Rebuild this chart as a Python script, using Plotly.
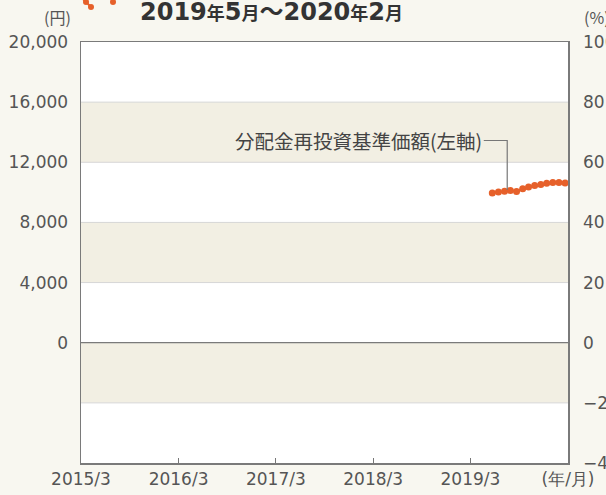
import plotly.graph_objects as go

# ---- data ----
dates = ["2019-05-22", "2019-06-14", "2019-07-07", "2019-07-29", "2019-08-21",
         "2019-09-13", "2019-10-05", "2019-10-28", "2019-11-20", "2019-12-12",
         "2020-01-04", "2020-01-27", "2020-02-19"]
nav = [9950, 10020, 10080, 10130, 10060, 10240, 10350, 10460, 10530, 10610,
       10660, 10650, 10620]

x_tickvals = ["2015-03-01", "2016-03-01", "2017-03-01", "2018-03-01",
              "2019-03-01", "2020-03-01"]
x_ticktext = ["2015/3", "2016/3", "2017/3", "2018/3", "2019/3", "(年/月)"]
y_tickvals = [0, 4000, 8000, 12000, 16000, 20000]
y2_tickvals = [-40, -20, 0, 20, 40, 60, 80, 100]
y2_ticktext = ["−40", "−20", "0", "20", "40", "60", "80", "100"]
band_ranges = [(12000, 16000), (4000, 8000), (-4000, 0)]
grid_vals = [16000, 12000, 8000, 4000, -4000]

ORANGE = "#e6602a"
TXT = "#555555"
CJK = "Noto Sans CJK JP"
NUM = "DejaVu Sans"
BG = "#f8f7f0"
BAND = "#f2efe3"

L, R, T, B = 81, 568, 42, 463
PW, PH = R - L, B - T


def px(xp):
    return (xp - L) / PW


def py(yp):
    return (B - yp) / PH


fig = go.Figure()
fig.add_trace(go.Scatter(
    x=dates, y=nav, mode="lines+markers",
    line=dict(color=ORANGE, width=2),
    marker=dict(color=ORANGE, size=7, symbol="circle"),
    showlegend=False, hoverinfo="skip"))
fig.add_trace(go.Scatter(x=[dates[0]], y=[0], yaxis="y2", mode="markers",
                         marker=dict(opacity=0), showlegend=False, hoverinfo="skip"))

shapes = []
for lo, hi in band_ranges:
    shapes.append(dict(type="rect", xref="paper", yref="y", x0=0, x1=1, y0=lo, y1=hi,
                       fillcolor=BAND, line=dict(width=0), layer="below"))
for g in grid_vals:
    shapes.append(dict(type="line", xref="paper", yref="y", x0=0, x1=1, y0=g, y1=g,
                       line=dict(color="#d6d6d6", width=1), layer="below"))
shapes.append(dict(type="line", xref="paper", yref="y", x0=0, x1=1, y0=0, y1=0,
                   line=dict(color="#7a7a7a", width=1.2), layer="below"))
# leader line
shapes.append(dict(type="path", xref="x", yref="y",
                   path="M 2019-04-20,13450 L 2019-07-17,13450 L 2019-07-17,10150",
                   line=dict(color="#777777", width=1.2)))
# legend fragment at top (cropped)
for cx, cy in [(86, 2), (91, 7), (113, 2)]:
    shapes.append(dict(type="circle", xref="paper", yref="paper",
                       x0=px(cx - 3), x1=px(cx + 3), y0=py(cy + 3), y1=py(cy - 3),
                       fillcolor=ORANGE, line=dict(width=0)))
shapes.append(dict(type="path", xref="paper", yref="paper",
                   path="M %f,%f L %f,%f" % (px(80), py(-4), px(91), py(7)),
                   line=dict(color=ORANGE, width=2)))


def cj(s, size):
    return "<span style='font-family:%s;font-size:%dpx'>%s</span>" % (CJK, size, s)


title = "2019" + cj("年", 18) + "5" + cj("月", 18) + cj("〜", 24) + "2020" + cj("年", 18) + "2" + cj("月", 18)

annotations = [
    dict(text=title, xref="paper", yref="paper", x=px(271), y=py(10),
         xanchor="center", yanchor="middle", showarrow=False,
         font=dict(family=NUM, size=24, color="#333333", weight="bold")),
    dict(text="(円)", xref="paper", yref="paper", x=px(73), y=py(17),
         xanchor="right", yanchor="middle", showarrow=False,
         font=dict(family=CJK, size=16, color=TXT)),
    dict(text="(%)", xref="paper", yref="paper", x=px(582), y=py(17),
         xanchor="left", yanchor="middle", showarrow=False,
         font=dict(family=CJK, size=16, color=TXT)),
    dict(text="分配金再投資基準価額(左軸)", xref="x", yref="y",
         x="2019-04-19", y=13450, xanchor="right", yanchor="middle", showarrow=False,
         font=dict(family=CJK, size=19.5, color="#444444")),
]

fig.update_layout(
    width=606, height=495,
    margin=dict(l=L, r=606 - R, t=T, b=495 - B),
    paper_bgcolor=BG, plot_bgcolor="#ffffff",
    font=dict(family=NUM, size=17, color=TXT),
    shapes=shapes, annotations=annotations,
    xaxis=dict(type="date", range=["2015-03-01", "2020-03-01"],
               tickvals=x_tickvals, ticktext=x_ticktext, automargin=False,
               ticks="inside", ticklen=5, tickcolor="#777777", tickwidth=1,
               showgrid=False, zeroline=False,
               showline=True, linecolor="#7a7a7a", linewidth=1.5, mirror=True,
               tickfont=dict(family=NUM, size=17, color=TXT)),
    yaxis=dict(range=[-8000, 20000], tickvals=y_tickvals, tickformat=",",
               showgrid=False, zeroline=False, ticks="", automargin=False,
               showline=True, linecolor="#7a7a7a", linewidth=1.5, mirror=True,
               ticklabelstandoff=8,
               tickfont=dict(family=NUM, size=17, color=TXT)),
    yaxis2=dict(range=[-40, 100], tickvals=y2_tickvals, ticktext=y2_ticktext,
                overlaying="y", side="right", showgrid=False, zeroline=False,
                showline=False, ticks="", ticklabelstandoff=14, automargin=False,
                tickfont=dict(family=NUM, size=17, color=TXT)),
)

fig.write_html("out.html",
               config={"displayModeBar": False, "staticPlot": True},
               post_script="document.body.style.margin='0';"
                           "document.body.style.background='%s';"
                           "document.body.style.overflow='hidden';" % BG)
